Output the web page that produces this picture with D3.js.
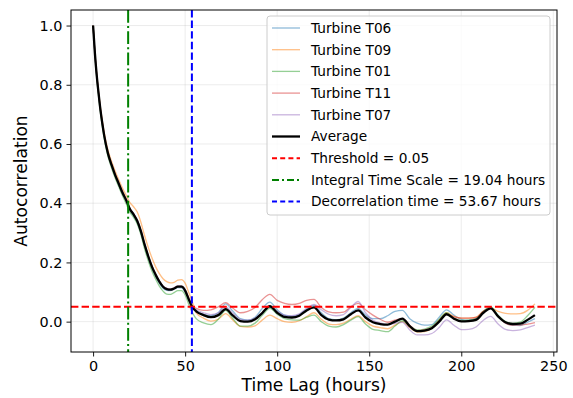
<!DOCTYPE html>
<html><head><meta charset="utf-8">
<script src="https://cdn.jsdelivr.net/npm/d3@7"></script>
<style>body{margin:0;background:#fff}svg{display:block;font-family:"DejaVu Sans",sans-serif}</style>
</head><body><svg id="c" width="573" height="398"></svg>
<script>
const lags = [0,1,2,3,4,5,6,8,10,12,14,16,18,20,22,24,26,28,30,32,34,36,38,40,42,44,46,48,50,52,54,
56,60,64,68,72,76,80,84,88,92,96,100,104,108,112,116,120,124,128,132,136,140,144,148,152,156,160,164,168,172,176,180,184,188,192,196,200,204,208,212,216,220,224,228,232,236,240];

const t06 = [1.0,0.905,0.83,0.77,0.713,0.668,0.628,0.568,0.528,0.493,0.462,0.432,0.407,0.377,0.358,0.335,0.3,0.255,0.215,0.18,0.153,0.13,0.113,0.106,0.105,0.11,0.115,0.114,0.1,0.072,0.047,
0.036,0.025,0.02,0.03,0.06,0.035,0.01,0.005,0.015,0.045,0.066,0.04,0.022,0.018,0.024,0.042,0.055,0.03,0.01,0.006,0.012,0.03,0.045,0.022,0.01,0.01,0.02,0.035,0.038,0.01,-0.005,-0.012,-0.01,0.015,0.04,0.022,0.008,0.005,0.01,0.035,0.048,0.02,-0.004,-0.012,-0.013,-0.002,0.01];
const t09 = [1.0,0.908,0.835,0.777,0.723,0.68,0.64,0.582,0.542,0.508,0.478,0.45,0.426,0.402,0.388,0.37,0.335,0.29,0.25,0.215,0.185,0.162,0.145,0.135,0.131,0.133,0.14,0.142,0.13,0.098,0.065,
0.03,0.012,0.002,0.008,0.027,0.005,-0.016,-0.018,-0.014,0.006,0.022,0.01,0.0,-0.002,0.003,0.017,0.03,0.008,-0.008,-0.01,-0.005,0.008,0.02,0.0,-0.015,-0.02,-0.024,-0.012,0.0,-0.02,-0.035,-0.034,-0.022,0.005,0.03,0.018,0.012,0.012,0.015,0.035,0.046,0.035,0.028,0.026,0.027,0.038,0.06];
const t01 = [1.0,0.9,0.822,0.76,0.705,0.66,0.62,0.56,0.52,0.485,0.455,0.425,0.398,0.37,0.352,0.33,0.293,0.245,0.205,0.17,0.143,0.12,0.103,0.093,0.092,0.098,0.105,0.105,0.09,0.058,0.03,
0.01,-0.004,-0.01,0.008,0.038,0.01,-0.015,-0.015,-0.005,0.022,0.045,0.025,0.01,0.006,0.005,0.015,0.022,0.0,-0.015,-0.018,-0.01,0.005,0.017,-0.008,-0.026,-0.03,-0.034,-0.015,0.003,-0.015,-0.028,-0.025,-0.015,0.008,0.03,0.012,0.004,0.005,0.01,0.035,0.05,0.022,0.0,-0.006,-0.002,0.02,0.048];
const t11 = [1.0,0.905,0.83,0.77,0.716,0.672,0.632,0.572,0.532,0.497,0.467,0.438,0.412,0.382,0.364,0.342,0.307,0.262,0.222,0.188,0.16,0.137,0.12,0.112,0.11,0.114,0.12,0.12,0.108,0.08,0.052,
0.045,0.038,0.04,0.05,0.064,0.045,0.03,0.035,0.048,0.075,0.092,0.072,0.062,0.058,0.062,0.072,0.075,0.048,0.033,0.03,0.032,0.05,0.062,0.04,0.022,0.008,-0.002,0.005,0.01,-0.012,-0.03,-0.028,-0.02,0.002,0.025,0.016,0.012,0.012,0.014,0.035,0.045,0.018,-0.005,-0.012,-0.012,-0.008,-0.003];
const t07 = [1.0,0.905,0.83,0.77,0.715,0.67,0.63,0.57,0.53,0.495,0.465,0.436,0.411,0.382,0.364,0.342,0.307,0.262,0.222,0.187,0.16,0.137,0.12,0.112,0.11,0.114,0.12,0.12,0.107,0.077,0.05,
0.04,0.03,0.024,0.03,0.05,0.028,0.008,0.005,0.012,0.032,0.05,0.035,0.022,0.02,0.026,0.045,0.058,0.04,0.025,0.02,0.024,0.048,0.068,0.03,0.005,-0.004,-0.01,-0.006,-0.002,-0.028,-0.045,-0.045,-0.04,-0.02,0.006,-0.012,-0.027,-0.026,-0.018,0.005,0.018,-0.008,-0.026,-0.03,-0.028,-0.02,-0.012];
const average = [1.0,0.905,0.83,0.77,0.715,0.67,0.63,0.57,0.53,0.495,0.465,0.435,0.41,0.38,0.362,0.34,0.305,0.26,0.22,0.185,0.158,0.135,0.118,0.11,0.108,0.112,0.118,0.118,0.105,0.075,0.048,
0.035,0.022,0.015,0.022,0.042,0.02,0.002,0.0,0.008,0.03,0.052,0.03,0.016,0.014,0.02,0.038,0.048,0.022,0.007,0.004,0.008,0.025,0.038,0.014,-0.002,-0.008,-0.01,0.0,0.01,-0.015,-0.032,-0.03,-0.022,0.0,0.025,0.01,0.001,0.002,0.006,0.03,0.045,0.018,-0.002,-0.008,-0.007,0.006,0.022];

const seriesNames = ["Turbine T06","Turbine T09","Turbine T01","Turbine T11","Turbine T07"];
const seriesValues = [t06,t09,t01,t11,t07];
const seriesColors = ["#1f77b4","#ff7f0e","#2ca02c","#d62728","#9467bd"];
const threshold = 0.05;
const integralTime = 19.04;
const decorrTime = 53.67;
const xTicks = [0,50,100,150,200,250];
const yTicks = [0.0,0.2,0.4,0.6,0.8,1.0];

const svg = d3.select("#c");
const L=71, R=557, T=10, B=352;
const x = d3.scaleLinear().domain([-12,252]).range([L,R]);
const y = d3.scaleLinear().domain([-0.1025,1.0525]).range([B,T]);

const DASH = "7.4,3.2", DASHDOT = "12.8,3.2,2,3.2";

// grid
const g = svg.append("g");
g.selectAll(".gx").data(xTicks).join("line").attr("x1",d=>x(d)).attr("x2",d=>x(d)).attr("y1",T).attr("y2",B).attr("stroke","#b0b0b0").attr("stroke-opacity",0.3).attr("stroke-width",0.8);
g.selectAll(".gy").data(yTicks).join("line").attr("x1",L).attr("x2",R).attr("y1",d=>y(d)).attr("y2",d=>y(d)).attr("stroke","#b0b0b0").attr("stroke-opacity",0.3).attr("stroke-width",0.8);

svg.append("clipPath").attr("id","cp").append("rect").attr("x",L).attr("y",T).attr("width",R-L).attr("height",B-T);
const plot = svg.append("g").attr("clip-path","url(#cp)");
const line = d3.line().x((d,i)=>x(lags[i])).y(d=>y(d)).curve(d3.curveMonotoneX);

seriesValues.forEach((vals,k)=>{
  plot.append("path").attr("d",line(vals)).attr("fill","none").attr("stroke",seriesColors[k]).attr("stroke-opacity",0.5).attr("stroke-width",1.3);
});
plot.append("path").attr("d",line(average)).attr("fill","none").attr("stroke","#000").attr("stroke-width",2.3);

plot.append("line").attr("x1",L).attr("x2",R).attr("y1",y(threshold)).attr("y2",y(threshold)).attr("stroke","red").attr("stroke-width",2).attr("stroke-dasharray",DASH);
plot.append("line").attr("x1",x(integralTime)).attr("x2",x(integralTime)).attr("y1",T).attr("y2",B).attr("stroke","green").attr("stroke-width",2).attr("stroke-dasharray",DASHDOT);
plot.append("line").attr("x1",x(decorrTime)).attr("x2",x(decorrTime)).attr("y1",T).attr("y2",B).attr("stroke","blue").attr("stroke-width",2).attr("stroke-dasharray",DASH);

// axes
const xa = svg.append("g").attr("transform",`translate(0,${B})`).call(d3.axisBottom(x).tickValues(xTicks).tickSize(4.5).tickPadding(4).tickFormat(d3.format("d")));
const ya = svg.append("g").attr("transform",`translate(${L},0)`).call(d3.axisLeft(y).tickValues(yTicks).tickSize(4.5).tickPadding(4).tickFormat(d3.format(".1f")));
[xa,ya].forEach(a=>{a.select(".domain").remove();a.selectAll("text").attr("font-size",14.4).attr("fill","#000").attr("font-family","DejaVu Sans");a.selectAll("line").attr("stroke","#000").attr("stroke-width",0.9);});
svg.append("rect").attr("x",L).attr("y",T).attr("width",R-L).attr("height",B-T).attr("fill","none").attr("stroke","#000").attr("stroke-width",1);

svg.append("text").attr("x",(L+R)/2).attr("y",391).attr("text-anchor","middle").attr("font-size",17.1).text("Time Lag (hours)");
svg.append("text").attr("transform",`translate(27,${(T+B)/2}) rotate(-90)`).attr("text-anchor","middle").attr("font-size",17.1).text("Autocorrelation");

// legend
const lg = svg.append("g");
lg.append("rect").attr("x",267).attr("y",16).attr("width",283).attr("height",199).attr("rx",3).attr("fill","#fff").attr("fill-opacity",0.8).attr("stroke","#cccccc").attr("stroke-width",1);
const items = seriesNames.map((n,k)=>({label:n,color:seriesColors[k],op:0.5,w:1.3,dash:null}))
 .concat([{label:"Average",color:"#000",op:1,w:2.3,dash:null},
 {label:"Threshold = "+threshold,color:"red",op:1,w:2,dash:"5,3.2"},
 {label:"Integral Time Scale = "+integralTime.toFixed(2)+" hours",color:"green",op:1,w:2,dash:"7,3,2,3"},
 {label:"Decorrelation time = "+decorrTime.toFixed(2)+" hours",color:"blue",op:1,w:2,dash:"5,3.2"}]);
items.forEach((it,i)=>{
  const yy = 28 + i*21.7;
  lg.append("line").attr("x1",272).attr("x2",300).attr("y1",yy).attr("y2",yy).attr("stroke",it.color).attr("stroke-opacity",it.op).attr("stroke-width",it.w).attr("stroke-dasharray",it.dash);
  lg.append("text").attr("x",311).attr("y",yy+4.8).attr("font-size",13.7).attr("fill","#000").text(it.label);
});
</script></body></html>
